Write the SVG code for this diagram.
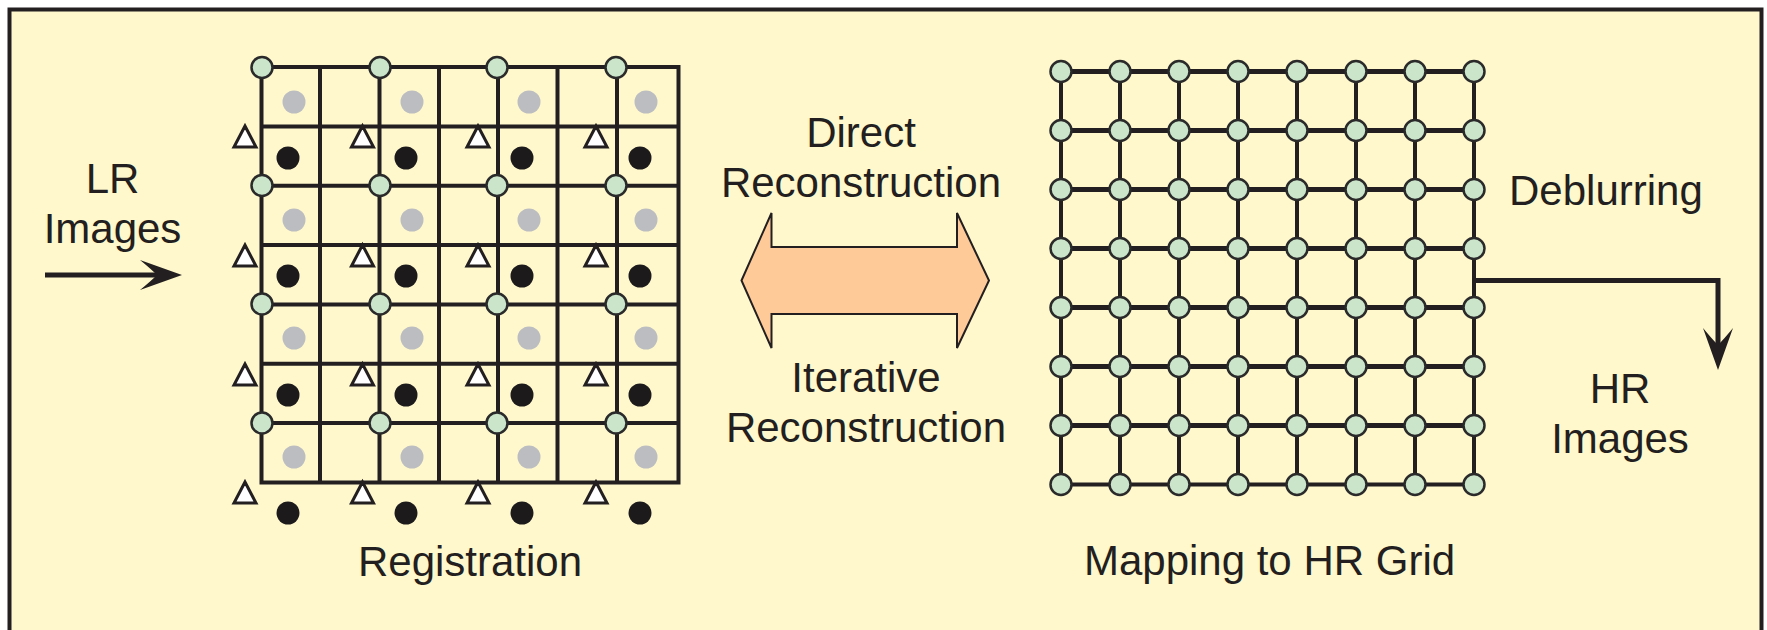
<svg xmlns="http://www.w3.org/2000/svg" xmlns:xlink="http://www.w3.org/1999/xlink" width="1767" height="630" viewBox="0 0 1767 630">
  <style>
    .lbl { font-family: "Liberation Sans", Arial, Helvetica, sans-serif; font-size: 42px; fill: #231f20; }
    .mid { text-anchor: middle; }
    .grid { fill: none; stroke: #231f20; stroke-width: 4; stroke-linecap: square; }
    .hgrid { fill: none; stroke: #231f20; stroke-width: 5; }
    .vgrid { fill: none; stroke: #231f20; stroke-width: 4; }
    .node { fill: #cae5c9; stroke: #2a2a2a; stroke-width: 2.5; }
    .gray { fill: #bcbdc1; }
    .black { fill: #1c1a1b; }
    .tri { fill: #ffffff; stroke: #231f20; stroke-width: 3; stroke-linejoin: miter; }
    .conn { fill: none; stroke: #231f20; stroke-width: 5; }
  </style>
  <defs>
    <marker id="barb" markerUnits="userSpaceOnUse" viewBox="-20 -17 48 34" markerWidth="48" markerHeight="34" refX="0" refY="0" orient="auto">
      <path d="M25,0 L-17,-15 Q-6,-6 0,0 Q-6,6 -17,15 Z" fill="#231f20"/>
    </marker>
    <circle id="hr-node" class="node" r="10.5"/>
    <g id="hr-row">
      <use href="#hr-node" x="1061" y="0"/>
      <use href="#hr-node" x="1120" y="0"/>
      <use href="#hr-node" x="1179" y="0"/>
      <use href="#hr-node" x="1238" y="0"/>
      <use href="#hr-node" x="1297" y="0"/>
      <use href="#hr-node" x="1356" y="0"/>
      <use href="#hr-node" x="1415" y="0"/>
      <use href="#hr-node" x="1474" y="0"/>
    </g>
  </defs>

  <!-- panel background and frame -->
  <rect x="0" y="0" width="1767" height="630" fill="#ffffff"/>
  <rect id="frame" x="9.5" y="9.5" width="1752" height="650" fill="#fff8cc" stroke="#231f20" stroke-width="4"/>

  <!-- low-resolution registration grid -->
  <g id="registration">
    <path class="grid" d="M261.5,67V482.5 M320,67V482.5 M379.5,67V482.5 M439,67V482.5 M498,67V482.5 M557.5,67V482.5 M617,67V482.5 M678.5,67V482.5
      M261.5,67H678.5 M261.5,126.4H678.5 M261.5,185.7H678.5 M261.5,245.1H678.5 M261.5,304.4H678.5 M261.5,363.8H678.5 M261.5,423.1H678.5 M261.5,482.5H678.5"/>
    <!-- grey samples -->
    <g class="gray">
      <circle cx="294" cy="102" r="11.5"/><circle cx="412" cy="102" r="11.5"/><circle cx="529" cy="102" r="11.5"/><circle cx="646" cy="102" r="11.5"/>
      <circle cx="294" cy="220" r="11.5"/><circle cx="412" cy="220" r="11.5"/><circle cx="529" cy="220" r="11.5"/><circle cx="646" cy="220" r="11.5"/>
      <circle cx="294" cy="338" r="11.5"/><circle cx="412" cy="338" r="11.5"/><circle cx="529" cy="338" r="11.5"/><circle cx="646" cy="338" r="11.5"/>
      <circle cx="294" cy="457" r="11.5"/><circle cx="412" cy="457" r="11.5"/><circle cx="529" cy="457" r="11.5"/><circle cx="646" cy="457" r="11.5"/>
    </g>
    <!-- black samples -->
    <g class="black">
      <circle cx="288" cy="158" r="11.5"/><circle cx="406" cy="158" r="11.5"/><circle cx="522" cy="158" r="11.5"/><circle cx="640" cy="158" r="11.5"/>
      <circle cx="288" cy="276" r="11.5"/><circle cx="406" cy="276" r="11.5"/><circle cx="522" cy="276" r="11.5"/><circle cx="640" cy="276" r="11.5"/>
      <circle cx="288" cy="395" r="11.5"/><circle cx="406" cy="395" r="11.5"/><circle cx="522" cy="395" r="11.5"/><circle cx="640" cy="395" r="11.5"/>
      <circle cx="288" cy="513" r="11.5"/><circle cx="406" cy="513" r="11.5"/><circle cx="522" cy="513" r="11.5"/><circle cx="640" cy="513" r="11.5"/>
    </g>
    <!-- triangle samples -->
    <g class="tri">
      <path d="M245,126 L234,147 H256 Z M362.5,126 L351.5,147 H373.5 Z M478,126 L467,147 H489 Z M596,126 L585,147 H607 Z"/>
      <path d="M245,245 L234,266 H256 Z M362.5,245 L351.5,266 H373.5 Z M478,245 L467,266 H489 Z M596,245 L585,266 H607 Z"/>
      <path d="M245,364 L234,385 H256 Z M362.5,364 L351.5,385 H373.5 Z M478,364 L467,385 H489 Z M596,364 L585,385 H607 Z"/>
      <path d="M245,482 L234,503 H256 Z M362.5,482 L351.5,503 H373.5 Z M478,482 L467,503 H489 Z M596,482 L585,503 H607 Z"/>
    </g>
    <!-- green reference nodes -->
    <g class="node">
      <circle cx="262" cy="67.5" r="10.5"/><circle cx="380" cy="67.5" r="10.5"/><circle cx="497" cy="67.5" r="10.5"/><circle cx="616" cy="67.5" r="10.5"/>
      <circle cx="262" cy="185.5" r="10.5"/><circle cx="380" cy="185.5" r="10.5"/><circle cx="497" cy="185.5" r="10.5"/><circle cx="616" cy="185.5" r="10.5"/>
      <circle cx="262" cy="304" r="10.5"/><circle cx="380" cy="304" r="10.5"/><circle cx="497" cy="304" r="10.5"/><circle cx="616" cy="304" r="10.5"/>
      <circle cx="262" cy="423" r="10.5"/><circle cx="380" cy="423" r="10.5"/><circle cx="497" cy="423" r="10.5"/><circle cx="616" cy="423" r="10.5"/>
    </g>
    <text class="lbl mid" x="470" y="576">Registration</text>
  </g>

  <!-- high-resolution grid -->
  <g id="hr-grid">
    <path class="vgrid" d="M1061,71.5V484.5 M1120,71.5V484.5 M1179,71.5V484.5 M1238,71.5V484.5 M1297,71.5V484.5 M1356,71.5V484.5 M1415,71.5V484.5 M1474,71.5V484.5"/>
    <path class="hgrid" d="M1061,71.5H1474 M1061,130.5H1474 M1061,189.5H1474 M1061,248.5H1474 M1061,307.5H1474 M1061,366.5H1474 M1061,425.5H1474"/>
    <path class="vgrid" d="M1061,484.5H1474"/>
    <use href="#hr-row" y="71.5"/>
    <use href="#hr-row" y="130.5"/>
    <use href="#hr-row" y="189.5"/>
    <use href="#hr-row" y="248.5"/>
    <use href="#hr-row" y="307.5"/>
    <use href="#hr-row" y="366.5"/>
    <use href="#hr-row" y="425.5"/>
    <use href="#hr-row" y="484.5"/>
    <text class="lbl mid" x="1269.5" y="575">Mapping to HR Grid</text>
  </g>

  <!-- reconstruction: two-way block arrow -->
  <g id="reconstruction">
    <polygon points="741.5,280.5 771.5,213 771.5,247 957,247 957,213 989,280.5 957,348 957,314 771.5,314 771.5,348" fill="#fdca98" stroke="#231f20" stroke-width="2"/>
    <text class="lbl mid" x="861" y="147">Direct</text>
    <text class="lbl mid" x="861" y="197">Reconstruction</text>
    <text class="lbl mid" x="866" y="392">Iterative</text>
    <text class="lbl mid" x="866" y="442">Reconstruction</text>
  </g>

  <!-- input and output labels -->
  <g id="lr-input">
    <text class="lbl mid" x="112.5" y="193">LR</text>
    <text class="lbl mid" x="112.5" y="243">Images</text>
  </g>
  <g id="hr-output">
    <text class="lbl" x="1509" y="205">Deblurring</text>
    <text class="lbl mid" x="1620" y="403">HR</text>
    <text class="lbl mid" x="1620" y="453">Images</text>
  </g>

  <!-- connectors -->
  <g id="connectors">
    <path class="conn" d="M45,275 H157" marker-end="url(#barb)"/>
    <path class="conn" d="M1474,280.5 H1718 V345" stroke-linejoin="miter" marker-end="url(#barb)"/>
  </g>
</svg>
